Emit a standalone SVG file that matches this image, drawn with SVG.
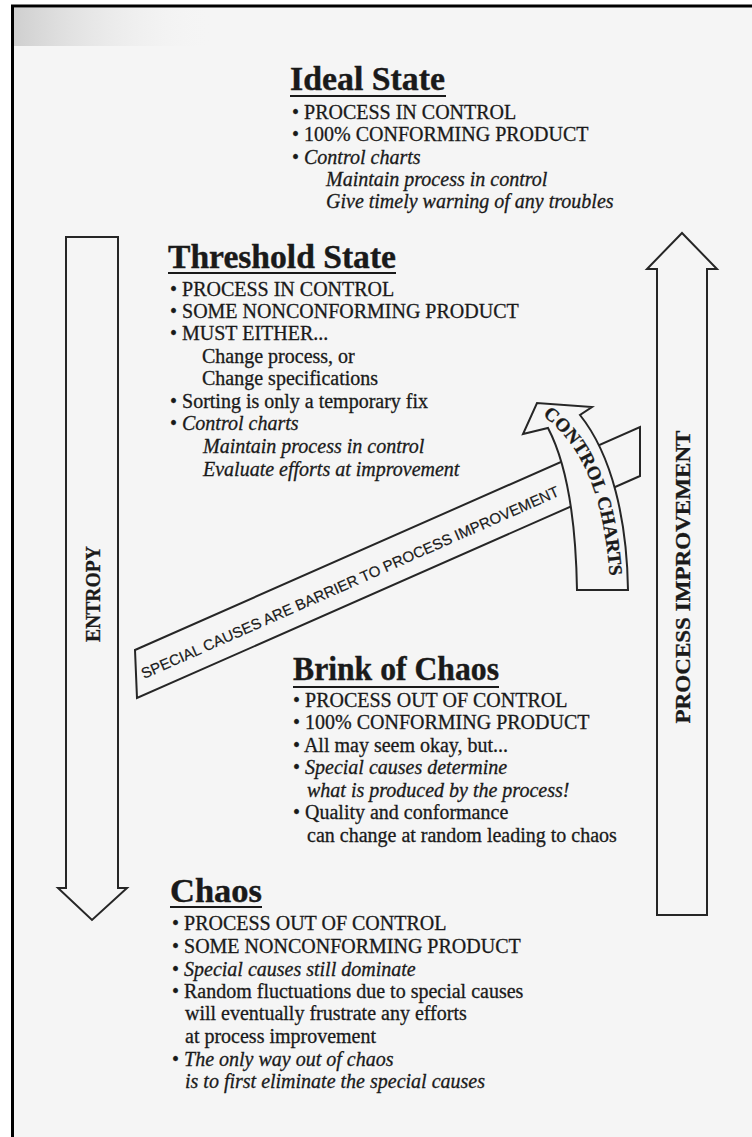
<svg xmlns="http://www.w3.org/2000/svg" width="752" height="1137" viewBox="0 0 752 1137">
<defs>
<style>
.t{font-family:"Liberation Serif","Times New Roman",serif;font-size:20px;fill:#1a1a1a;stroke:#1a1a1a;stroke-width:0.3px}
.i{font-style:italic}
.h{font-weight:bold;font-size:33px;stroke-width:0.4px}
.ul{stroke:#1a1a1a;stroke-width:2}
.shape{fill:#f5f5f5;stroke:#262626;stroke-width:2;stroke-linejoin:miter}
.vb{font-family:"Liberation Serif","Times New Roman",serif;font-weight:bold;fill:#1a1a1a;stroke:#1a1a1a;stroke-width:0.3px}
.band{font-family:"Liberation Sans",Arial,sans-serif;font-size:15px;fill:#1a1a1a;stroke:#1a1a1a;stroke-width:0.2px}
</style>
<linearGradient id="shade" x1="0" y1="0" x2="1" y2="0">
<stop offset="0" stop-color="#cfcfcf"/>
<stop offset="1" stop-color="#f5f5f5" stop-opacity="0"/>
</linearGradient>
<path id="ccpath" d="M 541,414 C 575,440 603,480 610,580"/>
</defs>
<rect x="0" y="0" width="752" height="1137" fill="#ffffff"/>
<rect x="12" y="6" width="740" height="1131" fill="#f5f5f5"/>
<rect x="14" y="8" width="200" height="38" fill="url(#shade)"/>
<line x1="11" y1="6" x2="752" y2="6" stroke="#000" stroke-width="3"/>
<line x1="12.5" y1="5" x2="12.5" y2="1137" stroke="#000" stroke-width="3"/>

<g id="connectors">
<g id="entropy-arrow">
<path class="shape" d="M 66,237 L 118,237 L 118,888 L 127,888 L 92,920 L 58,888 L 66,888 Z"/>
<text class="vb" font-size="22" text-anchor="middle" textLength="96" lengthAdjust="spacingAndGlyphs" transform="translate(100,594) rotate(-90)">ENTROPY</text>
</g>
<g id="process-improvement-arrow">
<path class="shape" d="M 657,915 L 657,269 L 647,269 L 682,233 L 717,269 L 707,269 L 707,915 Z"/>
<text class="vb" font-size="22" text-anchor="middle" textLength="293" lengthAdjust="spacingAndGlyphs" transform="translate(690,577) rotate(-90)">PROCESS IMPROVEMENT</text>
</g>
<g id="special-causes-band">
<path class="shape" d="M 135,650 L 640,427 L 640,476 L 137,698 Z"/>
<text class="band" textLength="455" lengthAdjust="spacingAndGlyphs" transform="translate(144,679) rotate(-23.8)">SPECIAL CAUSES ARE BARRIER TO PROCESS IMPROVEMENT</text>
</g>
<g id="control-charts-arrow">
<path class="shape" d="M 577,590 C 576,530 570,470 548,428 L 523,434 L 537,403 L 592,407 L 580,415 C 612,455 627,520 628,590 Z"/>
<text class="vb" font-size="19"><textPath href="#ccpath" startOffset="2" textLength="180" lengthAdjust="spacing">CONTROL CHARTS</textPath></text>
</g>
</g>

<g id="ideal-state">
<text class="t h" x="290" y="90" textLength="155" lengthAdjust="spacingAndGlyphs">Ideal State</text>
<line class="ul" x1="290" y1="96" x2="446" y2="96"/>
<text class="t" x="292" y="119">• PROCESS IN CONTROL</text>
<text class="t" x="292" y="141">• 100% CONFORMING PRODUCT</text>
<text class="t" x="292" y="164">• <tspan class="i">Control charts</tspan></text>
<text class="t i" x="326" y="186">Maintain process in control</text>
<text class="t i" x="326" y="208">Give timely warning of any troubles</text>
</g>

<g id="threshold-state">
<text class="t h" x="168" y="268" textLength="228" lengthAdjust="spacingAndGlyphs">Threshold State</text>
<line class="ul" x1="168" y1="273" x2="396" y2="273"/>
<text class="t" x="170" y="296">• PROCESS IN CONTROL</text>
<text class="t" x="170" y="318">• SOME NONCONFORMING PRODUCT</text>
<text class="t" x="170" y="340">• MUST EITHER...</text>
<text class="t" x="202" y="363">Change process, or</text>
<text class="t" x="202" y="385">Change specifications</text>
<text class="t" x="170" y="408">• Sorting is only a temporary fix</text>
<text class="t" x="170" y="430">• <tspan class="i">Control charts</tspan></text>
<text class="t i" x="203" y="453">Maintain process in control</text>
<text class="t i" x="203" y="476">Evaluate efforts at improvement</text>
</g>

<g id="brink-of-chaos">
<text class="t h" x="293" y="680" textLength="206" lengthAdjust="spacingAndGlyphs">Brink of Chaos</text>
<line class="ul" x1="293" y1="687" x2="499" y2="687"/>
<text class="t" x="293" y="707">• PROCESS OUT OF CONTROL</text>
<text class="t" x="293" y="729">• 100% CONFORMING PRODUCT</text>
<text class="t" x="293" y="752">• All may seem okay, but...</text>
<text class="t" x="293" y="774">• <tspan class="i">Special causes determine</tspan></text>
<text class="t i" x="307" y="797">what is produced by the process!</text>
<text class="t" x="293" y="819">• Quality and conformance</text>
<text class="t" x="307" y="842">can change at random leading to chaos</text>
</g>

<g id="chaos">
<text class="t h" x="170" y="902" textLength="92" lengthAdjust="spacingAndGlyphs">Chaos</text>
<line class="ul" x1="170" y1="907" x2="262" y2="907"/>
<text class="t" x="172" y="930">• PROCESS OUT OF CONTROL</text>
<text class="t" x="172" y="953">• SOME NONCONFORMING PRODUCT</text>
<text class="t" x="172" y="976">• <tspan class="i">Special causes still dominate</tspan></text>
<text class="t" x="172" y="998">• Random fluctuations due to special causes</text>
<text class="t" x="185" y="1020">will eventually frustrate any efforts</text>
<text class="t" x="185" y="1043">at process improvement</text>
<text class="t" x="172" y="1066">• <tspan class="i">The only way out of chaos</tspan></text>
<text class="t i" x="185" y="1088">is to first eliminate the special causes</text>
</g>
</svg>
